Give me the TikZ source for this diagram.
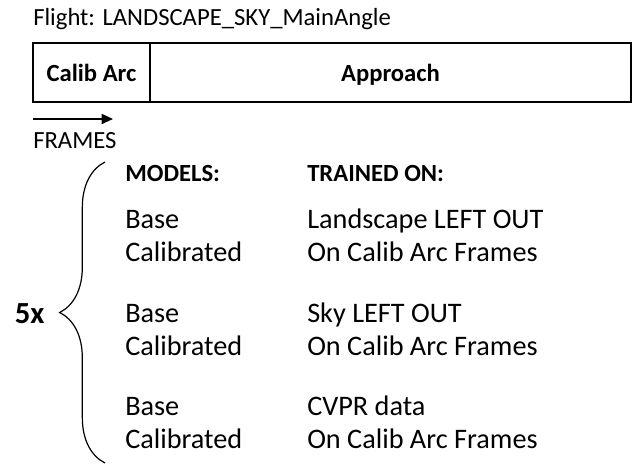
\documentclass[tikz,border=0pt]{standalone}
\usepackage{fontspec}
\setmainfont{Carlito}
\usepackage{tikz}
\usetikzlibrary{calc, positioning, arrows.meta, decorations.pathreplacing}

\begin{document}
\begin{tikzpicture}[
  x=0.75pt, y=-0.75pt,
  label/.style={anchor=base west, inner sep=0pt, font=\fontsize{18.5}{22}\selectfont},
  header/.style={anchor=base west, inner sep=0pt, font=\fontsize{18.5}{22}\selectfont\bfseries},
  entry/.style={anchor=base west, inner sep=0pt, font=\fontsize{21.2}{25}\selectfont},
  cell/.style={draw, line width=1.1pt, inner sep=0pt, minimum height=44.25pt, text depth=0pt,
               font=\fontsize{18.5}{22}\selectfont\bfseries},
]
\useasboundingbox (0,0) rectangle (643,464);
% Columns (in px of the 643x464 frame)
\def\colA{125}   % models column
\def\colB{307}   % trained-on column
\def\lineSep{33} % distance between the two lines of a group

% Flight title and frame bar
\node[label] (title) at (33,26) {Flight: LANDSCAPE\_SKY\_MainAngle};
\node[cell, minimum width=87.75pt]  (calibArc) at (91.5,72.5) {Calib Arc};
\node[cell, minimum width=360.75pt] (approach) at (390.5,72.5) {Approach};

% Time direction
\coordinate (framesStart) at (33,119);
\coordinate (framesEnd)   at (113,119);
\draw[line width=1.3pt, -{Triangle[length=8.5pt, width=7.5pt]}] (framesStart) -- (framesEnd);
\node[label] (frames) at (33,148) {FRAMES};

% Column headers
\node[header] (models)    at (\colA,181) {MODELS:};
\node[header] (trainedOn) at (\colB,181) {TRAINED ON:};

% Group 1: landscape left out
\node[entry] (baseA)     at (\colA,228)          {Base};
\node[entry] (calibA)    at (\colA,228+\lineSep) {Calibrated};
\node[entry] (dataA)     at (\colB,228)          {Landscape LEFT OUT};
\node[entry] (calibArcA) at (\colB,228+\lineSep) {On Calib Arc Frames};

% Group 2: sky left out
\node[entry] (baseB)     at (\colA,322)          {Base};
\node[entry] (calibB)    at (\colA,322+\lineSep) {Calibrated};
\node[entry] (dataB)     at (\colB,322)          {Sky LEFT OUT};
\node[entry] (calibArcB) at (\colB,322+\lineSep) {On Calib Arc Frames};

% Group 3: CVPR data
\node[entry] (baseC)     at (\colA,415)          {Base};
\node[entry] (calibC)    at (\colA,415+\lineSep) {Calibrated};
\node[entry] (dataC)     at (\colB,415)          {CVPR data};
\node[entry] (calibArcC) at (\colB,415+\lineSep) {On Calib Arc Frames};

% Repetition brace
\coordinate (braceBot) at (105,463);
\coordinate (braceTop) at (105,162);
\draw[line width=0.9pt, decorate, decoration={brace, amplitude=34pt}] (braceBot) -- (braceTop);
\node[anchor=base west, inner sep=0pt, font=\fontsize{23}{27}\selectfont\bfseries] (repeat) at (14.5,323) {5x};

\end{tikzpicture}
\end{document}
